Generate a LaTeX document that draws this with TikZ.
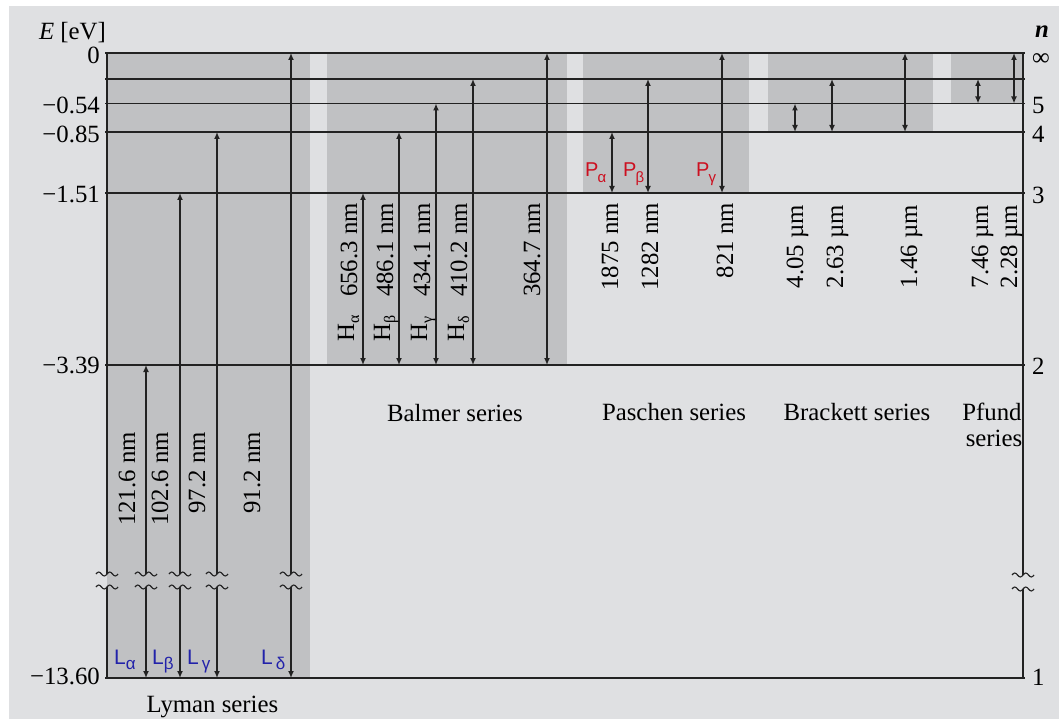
\documentclass[tikz,border=0pt]{standalone}
\usepackage{fontspec}
\setmainfont{Liberation Serif}
\newfontfamily\sansf{Liberation Sans}
\usetikzlibrary{arrows.meta}
\definecolor{bgc}{HTML}{DFE0E2}
\definecolor{shadec}{HTML}{C0C1C3}
\definecolor{lnc}{HTML}{222222}
\definecolor{redl}{HTML}{CC1020}
\definecolor{bluel}{HTML}{2222AA}
\newcommand\gsub[1]{\raisebox{-5pt}{\fontsize{16}{16}\selectfont #1}}
\newcommand\lsub[1]{\raisebox{-5pt}{\fontsize{17}{17}\selectfont #1}}
\newcommand\psub[1]{\kern-1pt\raisebox{-6pt}{\fontsize{15}{15}\selectfont #1}}
\newcommand\wv[2]{\draw[wavy] (#1-11,#2) sin (#1-8.25,#2-2) cos (#1-5.5,#2) sin (#1-2.75,#2+2) cos (#1,#2) sin (#1+2.75,#2-2) cos (#1+5.5,#2) sin (#1+8.25,#2+2) cos (#1+11,#2);}
\newcommand\tr[4]{\coordinate (#1-t) at (#2,#3); \coordinate (#1-b) at (#2,#4); \draw[trans] (#1-b) -- (#1-t);}
\newcommand\ly[3]{\coordinate (#1-t) at (#2,#3); \coordinate (#1-m) at (#2,574); \coordinate (#1-n) at (#2,587); \coordinate (#1-b) at (#2,678);
  \draw[upar] (#1-m) -- (#1-t); \draw[upar] (#1-n) -- (#1-b); \wv{#2}{574}\wv{#2}{587}}
\begin{document}
\begin{tikzpicture}[x=1pt,y=-1pt,
  lvl/.style={lnc, line width=1.6pt},
  trans/.style={lnc, line width=1.6pt, {Latex[length=7pt,width=6pt]}-{Latex[length=7pt,width=6pt]}},
  upar/.style={lnc, line width=1.6pt, -{Latex[length=7pt,width=6pt]}},
  wavy/.style={lnc, line width=1.1pt},
  lbl/.style={font=\fontsize{24.8}{28}\selectfont, inner sep=0pt, text=black},
  vlbl/.style={lbl, rotate=90, anchor=base east},
  hlbl/.style={lbl, rotate=90, anchor=base west},
  colL/.style={font=\sansf\fontsize{21}{24}\selectfont, text=bluel, inner sep=0pt, anchor=base west},
  colP/.style={font=\sansf\fontsize{20}{24}\selectfont, text=redl, inner sep=0pt, anchor=base west}]
\useasboundingbox (0,0) rectangle (1059,719);
\fill[white] (0,0) rectangle (1059,719);
\fill[bgc] (9,6) rectangle (1059,719);
% shaded series regions
\fill[shadec] (107,53) rectangle (310,678);
\fill[shadec] (327,53) rectangle (567,365);
\fill[shadec] (583,53) rectangle (749,193);
\fill[shadec] (768,53) rectangle (933,132);
\fill[shadec] (951,53) rectangle (1023,103.5);
% levels
\foreach \n/\y in {inf/53,6/79,5/103.5,4/132,3/193,2/365,1/678}{
  \coordinate (n\n L) at (105,\y); \coordinate (n\n R) at (1025,\y);
  \draw[lvl] (n\n L) -- (n\n R);}
% frame with breaks
\coordinate (fLt) at (107,53); \coordinate (fLm) at (107,574); \coordinate (fLn) at (107,587); \coordinate (fLb) at (107,678);
\coordinate (fRt) at (1023,53); \coordinate (fRm) at (1023,575); \coordinate (fRn) at (1023,589); \coordinate (fRb) at (1023,678);
\draw[lvl] (fLt) -- (fLm); \draw[lvl] (fLn) -- (fLb);
\draw[lvl] (fRt) -- (fRm); \draw[lvl] (fRn) -- (fRb);
\wv{107}{574}\wv{107}{587}\wv{1023}{575}\wv{1023}{589}
% Lyman
\ly{La}{146}{365}
\ly{Lb}{180}{193}
\ly{Lg}{217}{132}
\ly{Ld}{291}{53}
% Balmer
\tr{Ha}{363}{193}{365}
\tr{Hb}{399}{132}{365}
\tr{Hg}{436}{103.5}{365}
\tr{Hd}{473}{79}{365}
\tr{Hi}{547}{53}{365}
% Paschen
\tr{Pa}{612}{132}{193}
\tr{Pb}{648}{79}{193}
\tr{Pg}{722}{53}{193}
% Brackett
\tr{Ba}{795}{103.5}{132}
\tr{Bb}{832}{79}{132}
\tr{Bi}{905}{53}{132}
% Pfund
\tr{Fa}{978}{79}{103.5}
\tr{Fi}{1014}{53}{103.5}
% axis labels
\node[lbl, anchor=base east] (Elab) at (106,40) {\textit{E} [eV]};
\node[lbl, anchor=base west] (nlab) at (1035,38) {\textbf{\textit{n}}};
\node[lbl, anchor=east] (v0) at (100,55) {0};
\node[lbl, anchor=east] (v5) at (100,105) {−0.54};
\node[lbl, anchor=east] (v4) at (100,134) {−0.85};
\node[lbl, anchor=east] (v3) at (100,194) {−1.51};
\node[lbl, anchor=east] (v2) at (100,365) {−3.39};
\node[lbl, anchor=east] (v1) at (100,676) {−13.60};
\node[lbl, anchor=west] (ninf) at (1032,60) {∞};
\node[lbl, anchor=west] (n5) at (1032,106) {5};
\node[lbl, anchor=west] (n4) at (1032,134) {4};
\node[lbl, anchor=west] (n3) at (1032,195) {3};
\node[lbl, anchor=west] (n2) at (1032,366) {2};
\node[lbl, anchor=west] (n1) at (1032,677) {1};
% wavelength labels
\node[vlbl] (wLa) at (135,432) {121.6 nm};
\node[vlbl] (wLb) at (168,432) {102.6 nm};
\node[vlbl] (wLg) at (205,432) {97.2 nm};
\node[vlbl] (wLd) at (260,432) {91.2 nm};
\node[vlbl] (wHa) at (357,203) {656.3 nm};
\node[vlbl] (wHb) at (393,203) {486.1 nm};
\node[vlbl] (wHg) at (430,203) {434.1 nm};
\node[vlbl] (wHd) at (467,203) {410.2 nm};
\node[vlbl] (wHi) at (540,203) {364.7 nm};
\node[hlbl] (sHa) at (354,342) {H\gsub{α}};
\node[hlbl] (sHb) at (390,342) {H\gsub{β}};
\node[hlbl] (sHg) at (427,342) {H\gsub{γ}};
\node[hlbl] (sHd) at (464,342) {H\gsub{δ}};
\node[vlbl] (wPa) at (618,203) {1875 nm};
\node[vlbl] (wPb) at (658,203) {1282 nm};
\node[vlbl] (wPg) at (733,203) {821 nm};
\node[vlbl] (wBa) at (803,205) {4.05 µm};
\node[vlbl] (wBb) at (843,205) {2.63 µm};
\node[vlbl] (wBi) at (917,205) {1.46 µm};
\node[vlbl] (wFa) at (988,205) {7.46 µm};
\node[vlbl] (wFi) at (1017,205) {2.28 µm};
% coloured line names
\node[colL] (tLa) at (114,664) {L\lsub{α}};
\node[colL] (tLb) at (152,664) {L\lsub{β}};
\node[colL] (tLg) at (187,664) {L\hspace{3pt}\lsub{γ}};
\node[colL] (tLd) at (261,664) {L\hspace{3pt}\lsub{δ}};
\node[colP] (tPa) at (585,177) {P\psub{α}};
\node[colP] (tPb) at (623,177) {P\psub{β}};
\node[colP] (tPg) at (696,177) {P\psub{γ}};
% series names
\node[lbl, anchor=base] (sLy) at (212.5,712) {Lyman series};
\node[lbl, anchor=base] (sBa) at (455,421) {Balmer series};
\node[lbl, anchor=base] (sPa) at (674,420) {Paschen series};
\node[lbl, anchor=base] (sBr) at (857,420) {Brackett series};
\node[lbl, anchor=base] (sPf1) at (992,420) {Pfund};
\node[lbl, anchor=base] (sPf2) at (994,446) {series};
\end{tikzpicture}
\end{document}
